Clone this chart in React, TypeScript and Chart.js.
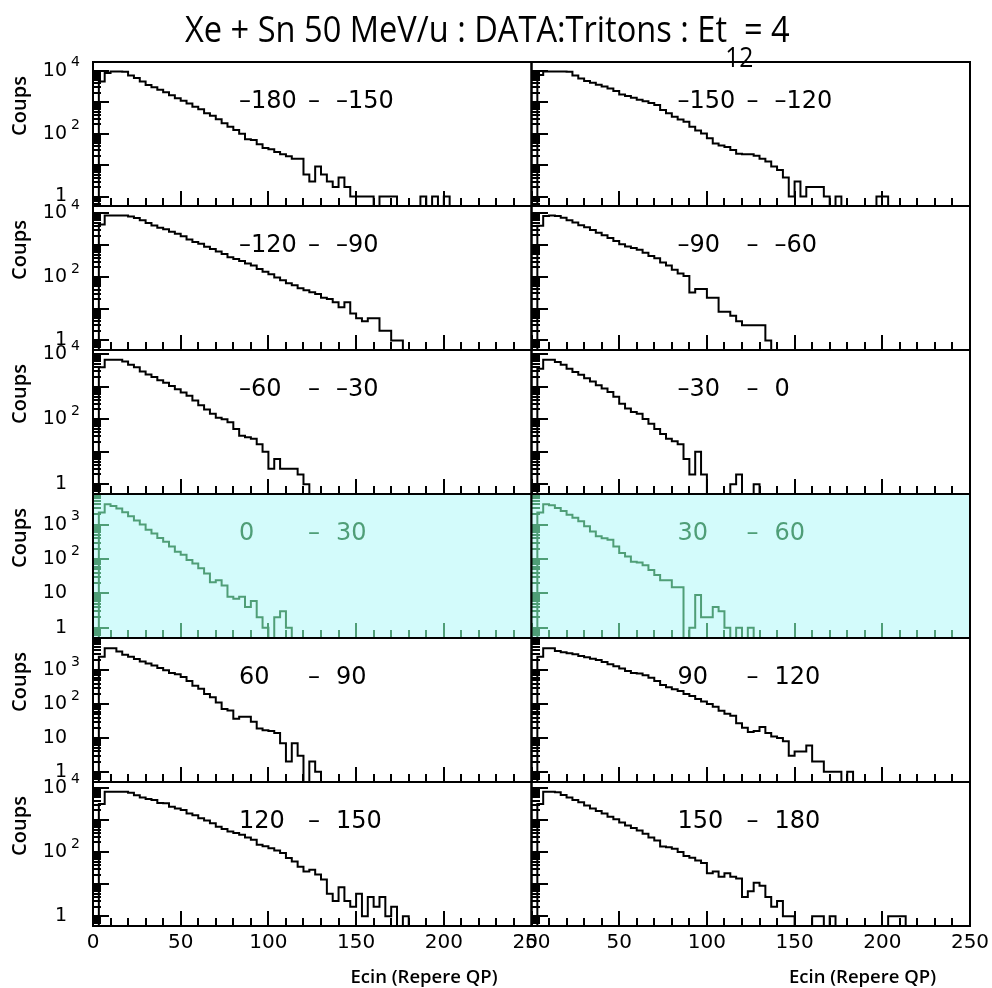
import React, { useEffect, useRef } from "react";
import { Chart, registerables } from "chart.js";

Chart.register(...registerables);

// ---------------- data ----------------
const X_MIN = 0;
const X_MAX = 250;
const BIN_COUNT = 75;
const Y_MIN = 0.5;
const X_TICK_LABELS = [0, 50, 100, 150, 200, 250];
const X_TITLE = "Ecin (Repere QP)";
const Y_TITLE = "Coups";
const TITLE_MAIN = "Xe + Sn 50 MeV/u : DATA:Tritons : Et";
const TITLE_SUB = "12";
const TITLE_END = "= 4";
const RANGE_LO = [-180, -150, -120, -90, -60, -30, 0, 30, 60, 90, 120, 150];
const RANGE_HI = [-150, -120, -90, -60, -30, 0, 30, 60, 90, 120, 150, 180];
const HIGHLIGHTED = [false, false, false, false, false, false, true, true, false, false, false, false];

const counts_m180_m150 = [0, 4570, 8510, 9550, 9550, 9400, 7080, 5890, 4570, 3550, 3020, 2510, 2090, 1660, 1350, 1120, 912, 724, 603, 447, 372, 288, 214, 166, 132, 100, 66, 63, 46, 35, 32, 26, 22, 19, 16, 16, 5, 3, 9, 5, 3, 2, 4, 2, 1, 1, 1, 1, 0, 1, 1, 1, 0, 0, 0, 0, 1, 0, 1, 0, 1];
const counts_m150_m120 = [0, 7410, 9550, 9550, 9550, 9550, 9330, 7080, 5750, 4790, 4170, 3630, 3160, 2750, 2290, 1780, 1580, 1380, 1200, 1070, 955, 813, 562, 447, 347, 282, 240, 166, 126, 102, 71, 49, 42, 38, 30, 23, 22, 22, 20, 16, 13, 9, 7, 4, 1, 3, 1, 2, 2, 2, 1, 0, 1, 0, 0, 0, 0, 0, 0, 1, 1];
const counts_m120_m90 = [0, 4470, 8510, 8510, 8510, 8510, 7940, 7080, 6030, 5010, 4170, 3550, 3160, 2630, 2290, 1910, 1510, 1260, 1100, 891, 759, 631, 525, 417, 363, 316, 263, 229, 178, 145, 120, 95, 79, 63, 55, 44, 38, 33, 29, 22, 20, 16, 11, 16, 7, 5, 4, 5, 5, 2, 2, 1, 1];
const counts_m90_m60 = [0, 3980, 8130, 8320, 8130, 7080, 5890, 5010, 4170, 3550, 2950, 2400, 2000, 1660, 1320, 1050, 891, 794, 708, 562, 447, 380, 282, 224, 166, 126, 105, 32, 41, 41, 22, 22, 8, 8, 6, 4, 3, 3, 3, 3, 1];
const counts_m60_m30 = [0, 3980, 6760, 6760, 6760, 6030, 4790, 3980, 2950, 2400, 2000, 1580, 1320, 1050, 832, 661, 525, 380, 269, 200, 148, 112, 100, 81, 50, 31, 28, 25, 17, 10, 3, 6, 3, 3, 3, 2, 1];
const counts_m30_0 = [0, 3550, 6760, 6760, 5750, 4790, 3550, 2820, 2340, 1820, 1450, 1120, 891, 692, 490, 302, 214, 166, 148, 102, 72, 50, 35, 25, 21, 17, 6, 2, 10, 2, 0, 0, 0, 0, 1, 2, 0, 0, 1];
const counts_0_30 = [0, 2240, 3890, 3470, 2950, 2290, 1740, 1320, 1000, 708, 550, 407, 316, 229, 162, 132, 93, 74, 54, 38, 21, 24, 17, 8, 7, 8, 4, 6, 2, 1, 0, 2, 3, 1];
const counts_30_60 = [0, 2240, 3890, 3630, 3020, 2510, 1950, 1580, 1260, 891, 631, 457, 398, 363, 229, 148, 117, 83, 79, 66, 48, 34, 24, 24, 15, 15, 0, 1, 9, 2, 2, 4, 3, 1, 0, 1, 0, 1];
const counts_60_90 = [0, 2510, 4470, 4470, 3550, 2880, 2510, 2140, 1820, 1580, 1380, 1170, 1000, 832, 759, 631, 479, 347, 282, 200, 158, 112, 72, 65, 37, 42, 42, 30, 19, 17, 16, 14, 7, 2, 7, 3, 0, 2, 1];
const counts_90_120 = [0, 2510, 4470, 4470, 3720, 3390, 3160, 2950, 2630, 2400, 2190, 2000, 1740, 1510, 1320, 1120, 955, 832, 794, 708, 603, 479, 363, 316, 275, 245, 200, 174, 141, 120, 100, 83, 63, 52, 45, 27, 20, 15, 16, 21, 14, 11, 10, 8, 3, 4, 4, 6, 2, 2, 1, 1, 1, 0, 1];
const counts_120_150 = [0, 3160, 7590, 7590, 7590, 7590, 7080, 5890, 5010, 4470, 4170, 3390, 3310, 2570, 2290, 2040, 1580, 1410, 1120, 955, 794, 617, 525, 437, 389, 347, 282, 240, 170, 151, 132, 112, 93, 65, 51, 35, 25, 28, 20, 14, 5, 3, 8, 3, 2, 5, 1, 4, 2, 4, 1, 2, 0, 1];
const counts_150_180 = [0, 3160, 7590, 7590, 7240, 6030, 5010, 4170, 3550, 2820, 2290, 1910, 1580, 1260, 1050, 832, 676, 562, 468, 372, 282, 229, 148, 141, 126, 100, 76, 66, 55, 46, 22, 25, 17, 22, 17, 15, 4, 6, 11, 9, 4, 2, 3, 1, 1, 0, 0, 0, 1, 1, 0, 1, 0, 0, 0, 0, 0, 0, 0, 0, 0, 1, 1, 1];

const PANEL_COUNTS = [
  counts_m180_m150, counts_m150_m120,
  counts_m120_m90, counts_m90_m60,
  counts_m60_m30, counts_m30_0,
  counts_0_30, counts_30_60,
  counts_60_90, counts_90_120,
  counts_120_150, counts_150_180,
];

// ---------------- layout / style ----------------
const PAGE_W = 992;
const PAGE_H = 988;
const COL_LEFT = [93, 531.5];
const PANEL_W = 438.5;
const ROW_TOP = 62;
const ROW_H = 144;
const N_ROWS = 6;
const GREEN = "#4f9e77";
const CYAN = "#d3fbfb";
const FONT_NUM = '"DejaVu Sans", "Liberation Sans", sans-serif';
const FONT_TXT = '"Open Sans", "Noto Sans", sans-serif';

function fmt(n: number): string {
  return n < 0 ? "\u2013" + Math.abs(n) : String(n);
}

function makeDecor(i: number, yMax: number) {
  const col = i % 2;
  const row = Math.floor(i / 2);
  const hl = HIGHLIGHTED[i];
  const ink = hl ? GREEN : "#000";
  return {
    id: "decor" + i,
    beforeDatasetsDraw(chart: any) {
      if (!hl) return;
      const { left, top, right, bottom } = chart.chartArea;
      const ctx = chart.ctx;
      ctx.save();
      ctx.fillStyle = CYAN;
      ctx.fillRect(left, top, right - left, bottom - top);
      ctx.restore();
    },
    afterDatasetsDraw(chart: any) {
      const ctx = chart.ctx;
      const xs = chart.scales.x;
      const ys = chart.scales.y;
      const { left, top, right, bottom } = chart.chartArea;
      ctx.save();
      ctx.fillStyle = ink;
      const x0 = Math.round(left);
      for (let v = X_MIN; v <= X_MAX; v += 10) {
        const px = Math.round(xs.getPixelForValue(v));
        const len = v % 50 === 0 ? 15 : 8;
        ctx.fillRect(px - 1, bottom - len, 2, len);
      }
      for (let e = -1; e <= 5; e++) {
        for (let k = 1; k <= 9; k++) {
          const v = k * Math.pow(10, e);
          if (v < Y_MIN || v > yMax) continue;
          const py = Math.round(ys.getPixelForValue(v));
          const len = k === 1 ? 16 : 8;
          ctx.fillRect(x0, py - 1, len, 2);
        }
      }
      ctx.strokeStyle = "#000";
      ctx.lineWidth = 2;
      ctx.strokeRect(left, top, right - left, bottom - top);
      ctx.restore();
    },
    afterDraw(chart: any) {
      const ctx = chart.ctx;
      const xs = chart.scales.x;
      const ys = chart.scales.y;
      const { left, top, right, bottom } = chart.chartArea;
      ctx.save();
      ctx.fillStyle = "#000";
      if (col === 0) {
        const step = yMax >= 1e4 ? 2 : 1;
        for (let e = 0; Math.pow(10, e) <= yMax; e += step) {
          const py = ys.getPixelForValue(Math.pow(10, e));
          ctx.font = `19px ${FONT_NUM}`;
          ctx.textAlign = "right";
          ctx.textBaseline = "middle";
          ctx.fillText(e === 0 ? "1" : "10", left - 26, py);
          if (e >= 2) {
            ctx.font = `14px ${FONT_NUM}`;
            ctx.textAlign = "left";
            ctx.fillText(String(e), left - 22, py - 8);
          }
        }
        ctx.save();
        ctx.translate(20, top + 44);
        ctx.rotate(-Math.PI / 2);
        ctx.font = `600 20px ${FONT_TXT}`;
        ctx.textAlign = "center";
        ctx.textBaseline = "middle";
        ctx.fillText(Y_TITLE, 0, 0);
        ctx.restore();
      }
      // range label
      ctx.fillStyle = ink;
      ctx.font = `24px ${FONT_NUM}`;
      ctx.textAlign = "left";
      ctx.textBaseline = "middle";
      const ly = top + 40;
      ctx.fillText(fmt(RANGE_LO[i]), left + 146, ly);
      ctx.fillText("\u2013", left + 215, ly);
      ctx.fillText(fmt(RANGE_HI[i]), left + 243, ly);
      // bottom axis labels
      if (row === N_ROWS - 1) {
        ctx.fillStyle = "#000";
        ctx.font = `20px ${FONT_NUM}`;
        ctx.textAlign = "center";
        ctx.textBaseline = "middle";
        for (const v of X_TICK_LABELS) {
          ctx.fillText(String(v), xs.getPixelForValue(v), bottom + 17);
        }
        ctx.font = `600 18.5px ${FONT_TXT}`;
        ctx.textAlign = "right";
        ctx.fillText(X_TITLE, right - 34, bottom + 52);
      }
      // main title
      if (i === 0) {
        ctx.fillStyle = "#000";
        ctx.font = `37px ${FONT_TXT}`;
        ctx.textAlign = "left";
        ctx.textBaseline = "alphabetic";
        const w = ctx.measureText(TITLE_MAIN).width;
        const sx = 542 / w;
        ctx.translate(185, 42);
        ctx.scale(sx, 1);
        ctx.fillText(TITLE_MAIN, 0, 0);
        ctx.font = `28px ${FONT_TXT}`;
        const ws = ctx.measureText(TITLE_SUB).width;
        ctx.fillText(TITLE_SUB, w - 2, 25);
        ctx.font = `37px ${FONT_TXT}`;
        ctx.fillText(TITLE_END, w + ws * 0.6, 0);
      }
      ctx.restore();
    },
  };
}

function buildConfig(i: number): any {
  const col = i % 2;
  const row = Math.floor(i / 2);
  const left = COL_LEFT[col];
  const right = left + PANEL_W;
  const top = ROW_TOP + row * ROW_H;
  const bottom = top + ROW_H;
  const counts = PANEL_COUNTS[i];
  const binW = (X_MAX - X_MIN) / BIN_COUNT;
  const points: { x: number; y: number }[] = [];
  for (let b = 0; b < BIN_COUNT; b++) {
    const c = b < counts.length ? counts[b] : 0;
    points.push({ x: X_MIN + b * binW, y: Math.max(c, Y_MIN) });
  }
  points.push({ x: X_MAX, y: Y_MIN });
  const yMax = Math.max(...counts) * 2;
  const color = HIGHLIGHTED[i] ? GREEN : "#000";
  return {
    type: "line",
    data: {
      datasets: [
        {
          data: points,
          stepped: "before",
          borderColor: color,
          borderWidth: 2,
          pointRadius: 0,
          fill: false,
          tension: 0,
        },
      ],
    },
    options: {
      animation: false,
      responsive: false,
      events: [],
      layout: {
        padding: { left, top, right: PAGE_W - right, bottom: PAGE_H - bottom },
      },
      plugins: {
        legend: { display: false },
        tooltip: { enabled: false },
        title: { display: false },
      },
      scales: {
        x: { type: "linear", min: X_MIN, max: X_MAX, display: false },
        y: { type: "logarithmic", min: Y_MIN, max: yMax, display: false },
      },
    },
    plugins: [makeDecor(i, yMax)],
  };
}

function Panel({ index }: { index: number }) {
  const ref = useRef<HTMLCanvasElement>(null);
  useEffect(() => {
    const chart = new Chart(ref.current as HTMLCanvasElement, buildConfig(index));
    return () => chart.destroy();
  }, [index]);
  return (
    <canvas
      ref={ref}
      width={PAGE_W}
      height={PAGE_H}
      style={{ position: "absolute", left: 0, top: 0 }}
    />
  );
}

export default function App() {
  return (
    <div
      style={{
        position: "absolute",
        left: 0,
        top: 0,
        width: PAGE_W,
        height: PAGE_H,
        background: "#fff",
        overflow: "hidden",
      }}
    >
      {PANEL_COUNTS.map((_, i) => (
        <Panel key={i} index={i} />
      ))}
    </div>
  );
}
